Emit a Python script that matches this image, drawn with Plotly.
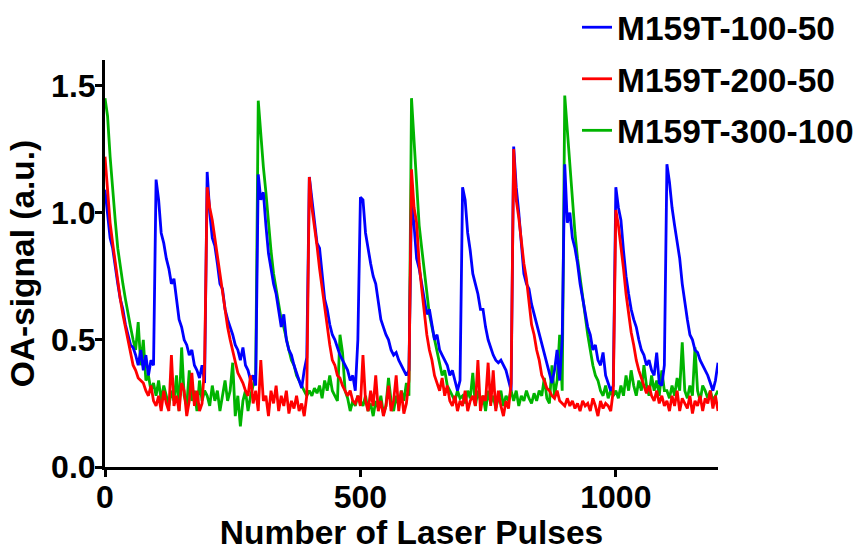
import plotly.graph_objects as go

# pulse numbers (one sample every 5 laser pulses)
pulses = list(range(0, 1201, 5))

blue_100_50 = [
    1.09, 0.98, 0.90, 0.86, 0.78, 0.72, 0.66, 0.62, 0.56, 0.52, 0.48, 0.47, 0.44, 0.40, 0.46, 0.38, 0.44, 0.36, 0.42, 0.40,
    1.13, 1.05, 0.92, 0.88, 0.82, 0.78, 0.72, 0.74, 0.65, 0.58, 0.55, 0.50, 0.48, 0.44, 0.46, 0.40, 0.38, 0.35, 0.40, 0.33,
    1.16, 1.00, 0.90, 0.87, 0.80, 0.72, 0.70, 0.62, 0.58, 0.55, 0.52, 0.48, 0.46, 0.42, 0.47, 0.40, 0.38, 0.34, 0.36, 0.32,
    1.15, 1.05, 1.08, 0.95, 0.84, 0.78, 0.72, 0.68, 0.62, 0.55, 0.60, 0.50, 0.46, 0.44, 0.40, 0.37, 0.34, 0.31, 0.38, 0.43,
    1.14, 1.05, 0.95, 0.88, 0.86, 0.75, 0.66, 0.62, 0.56, 0.52, 0.50, 0.47, 0.44, 0.42, 0.40, 0.38, 0.34, 0.36, 0.30, 0.50,
    1.06, 1.05, 0.92, 0.85, 0.80, 0.75, 0.72, 0.65, 0.58, 0.55, 0.52, 0.50, 0.46, 0.44, 0.45, 0.42, 0.40, 0.38, 0.36, 0.38,
    1.05, 0.95, 0.82, 0.78, 0.72, 0.66, 0.60, 0.62, 0.55, 0.50, 0.52, 0.46, 0.44, 0.42, 0.40, 0.36, 0.38, 0.34, 0.30, 0.34,
    1.10, 1.05, 0.92, 0.85, 0.76, 0.72, 0.68, 0.62, 0.62, 0.55, 0.50, 0.47, 0.44, 0.42, 0.41, 0.42, 0.40, 0.38, 0.34, 0.30,
    1.26, 1.10, 1.00, 0.88, 0.76, 0.72, 0.70, 0.64, 0.60, 0.56, 0.52, 0.48, 0.44, 0.40, 0.36, 0.33, 0.38, 0.46, 0.34, 0.50,
    1.19, 0.96, 1.00, 0.90, 0.86, 0.80, 0.72, 0.66, 0.60, 0.55, 0.52, 0.46, 0.48, 0.42, 0.40, 0.45, 0.36, 0.33, 0.30, 0.32,
    1.10, 1.02, 0.97, 0.85, 0.75, 0.68, 0.62, 0.58, 0.55, 0.50, 0.46, 0.44, 0.40, 0.42, 0.38, 0.36, 0.45, 0.33, 0.32, 0.40,
    1.19, 1.12, 1.02, 0.95, 0.88, 0.82, 0.72, 0.64, 0.58, 0.52, 0.50, 0.46, 0.45, 0.42, 0.40, 0.38, 0.36, 0.33, 0.30, 0.34,
    0.41,
]

red_200_50 = [
    1.22, 1.08, 0.96, 0.88, 0.80, 0.72, 0.66, 0.60, 0.55, 0.50, 0.45, 0.40, 0.38, 0.35, 0.34, 0.33, 0.30, 0.28, 0.32, 0.26,
    0.24, 0.28, 0.22, 0.30, 0.25, 0.22, 0.44, 0.24, 0.28, 0.22, 0.33, 0.30, 0.20, 0.26, 0.37, 0.24, 0.30, 0.22, 0.25, 0.40,
    1.10, 1.02, 0.97, 0.90, 0.82, 0.75, 0.68, 0.60, 0.55, 0.50, 0.46, 0.42, 0.37, 0.35, 0.33, 0.30, 0.28, 0.36, 0.25, 0.30,
    0.22, 0.42, 0.26, 0.28, 0.20, 0.30, 0.25, 0.32, 0.22, 0.28, 0.24, 0.30, 0.21, 0.26, 0.23, 0.28, 0.22, 0.25, 0.20, 0.28,
    1.14, 1.02, 0.95, 0.87, 0.78, 0.70, 0.62, 0.55, 0.48, 0.42, 0.40, 0.36, 0.35, 0.32, 0.30, 0.28, 0.30, 0.26, 0.25, 0.28,
    0.24, 0.44, 0.26, 0.22, 0.30, 0.24, 0.36, 0.22, 0.26, 0.20, 0.24, 0.32, 0.22, 0.26, 0.36, 0.22, 0.30, 0.21, 0.25, 0.34,
    1.17, 1.02, 0.96, 0.80, 0.70, 0.60, 0.52, 0.46, 0.42, 0.36, 0.33, 0.30, 0.35, 0.28, 0.32, 0.26, 0.24, 0.28, 0.22, 0.26,
    0.24, 0.30, 0.22, 0.26, 0.28, 0.24, 0.42, 0.22, 0.28, 0.26, 0.41, 0.24, 0.38, 0.22, 0.30, 0.24, 0.20, 0.26, 0.23, 0.33,
    1.25, 1.05, 0.98, 0.88, 0.80, 0.74, 0.64, 0.56, 0.52, 0.46, 0.42, 0.36, 0.34, 0.31, 0.30, 0.28, 0.27, 0.30, 0.26, 0.25,
    0.24, 0.27, 0.24, 0.26, 0.23, 0.25, 0.22, 0.26, 0.24, 0.25, 0.22, 0.27, 0.24, 0.20, 0.26, 0.23, 0.25, 0.24, 0.22, 0.30,
    1.01, 0.95, 0.87, 0.78, 0.68, 0.60, 0.53, 0.48, 0.42, 0.38, 0.35, 0.32, 0.29, 0.32, 0.28, 0.26, 0.30, 0.25, 0.28, 0.24,
    0.26, 0.22, 0.28, 0.24, 0.30, 0.22, 0.27, 0.25, 0.23, 0.28, 0.21, 0.26, 0.24, 0.28, 0.22, 0.27, 0.25, 0.30, 0.23, 0.28,
    0.22,
]

green_300_100 = [
    1.45, 1.38, 1.22, 1.08, 0.97, 0.86, 0.78, 0.72, 0.66, 0.60, 0.55, 0.50, 0.46, 0.57, 0.40, 0.50, 0.34, 0.36, 0.30, 0.33,
    0.28, 0.34, 0.26, 0.32, 0.28, 0.24, 0.30, 0.26, 0.36, 0.22, 0.47, 0.28, 0.24, 0.38, 0.26, 0.30, 0.22, 0.34, 0.26, 0.30,
    0.28, 0.24, 0.32, 0.26, 0.30, 0.22, 0.28, 0.34, 0.26, 0.30, 0.41, 0.20, 0.28, 0.16, 0.26, 0.30, 0.22, 0.28, 0.32, 0.36,
    1.44, 1.30, 1.18, 1.08, 0.95, 0.85, 0.76, 0.70, 0.64, 0.58, 0.55, 0.50, 0.46, 0.42, 0.40, 0.36, 0.34, 0.32, 0.30, 0.28,
    0.30, 0.28, 0.31, 0.29, 0.32, 0.27, 0.34, 0.30, 0.36, 0.30, 0.28, 0.26, 0.52, 0.45, 0.30, 0.27, 0.22, 0.26, 0.24, 0.28,
    0.26, 0.24, 0.28, 0.22, 0.25, 0.20, 0.26, 0.23, 0.28, 0.21, 0.24, 0.35, 0.26, 0.22, 0.28, 0.24, 0.30, 0.26, 0.33, 0.28,
    1.45, 1.28, 1.10, 0.95, 0.86, 0.78, 0.70, 0.60, 0.55, 0.50, 0.45, 0.40, 0.36, 0.38, 0.32, 0.30, 0.28, 0.26, 0.30, 0.27,
    0.28, 0.25, 0.30, 0.27, 0.37, 0.24, 0.30, 0.26, 0.28, 0.22, 0.30, 0.25, 0.28, 0.23, 0.27, 0.30, 0.24, 0.28, 0.26, 0.30,
    0.26, 0.30, 0.24, 0.28, 0.26, 0.30, 0.27, 0.25, 0.29, 0.26, 0.30, 0.28, 0.35, 0.27, 0.25, 0.40, 0.28, 0.34, 0.52, 0.30,
    1.46, 1.32, 1.18, 1.05, 0.92, 0.82, 0.74, 0.66, 0.58, 0.52, 0.46, 0.40, 0.36, 0.34, 0.30, 0.28, 0.32, 0.27, 0.30, 0.28,
    0.30, 0.27, 0.32, 0.28, 0.36, 0.30, 0.38, 0.32, 0.28, 0.34, 0.30, 0.40, 0.32, 0.28, 0.36, 0.30, 0.34, 0.28, 0.38, 0.30,
    0.30, 0.27, 0.32, 0.28, 0.35, 0.30, 0.49, 0.30, 0.27, 0.32, 0.28, 0.47, 0.30, 0.26, 0.32, 0.30, 0.27, 0.30, 0.26, 0.28,
    0.30,
]

series_names = ["M159T-100-50", "M159T-200-50", "M159T-300-100"]
series_colors = ["#0000FF", "#FF0000", "#00B400"]
x_ticks = [0, 500, 1000]
y_ticks = [0.0, 0.5, 1.0, 1.5]

FONT = "Liberation Sans, Arial, sans-serif"

fig = go.Figure()
# draw order: green (bottom), blue, red (top); legend order blue, red, green
draw = [(2, green_300_100, 3), (0, blue_100_50, 1), (1, red_200_50, 2)]
for idx, vals, rank in draw:
    fig.add_trace(go.Scatter(
        x=pulses, y=vals, mode="lines",
        name=series_names[idx],
        line=dict(color=series_colors[idx], width=2.8),
        legendrank=rank, legendgroup=series_names[idx],
    ))

axis_common = dict(
    showline=True, linecolor="black", linewidth=3,
    ticks="outside", ticklen=7, tickwidth=3, tickcolor="black",
    showgrid=False, zeroline=False,
    tickfont=dict(family=FONT, size=32, color="black", weight="bold"),
)

fig.update_layout(
    width=861, height=551,
    margin=dict(l=105, r=143, t=60, b=84, autoexpand=False),
    paper_bgcolor="white", plot_bgcolor="white",
    xaxis=dict(range=[0, 1200], tickvals=x_ticks, ticktext=[str(v) for v in x_ticks],
               ticklabelstandoff=-7,
               title=dict(text="Number of Laser Pulses", standoff=30,
                          font=dict(family=FONT, size=33.5, color="black", weight="bold")),
               **axis_common),
    yaxis=dict(range=[0, 1.6], tickvals=y_ticks, tickformat=".1f",
               ticklabelstandoff=-7,
               title=dict(text="OA-signal (a.u.)", standoff=7,
                          font=dict(family=FONT, size=33.5, color="black", weight="bold")),
               **axis_common),
    legend=dict(x=0.77, xanchor="left", y=1.15, yanchor="top",
                font=dict(family=FONT, size=33.5, color="black", weight="bold"),
                tracegroupgap=5, bgcolor="rgba(0,0,0,0)"),
    showlegend=True,
)

fig.write_html("out.html")
